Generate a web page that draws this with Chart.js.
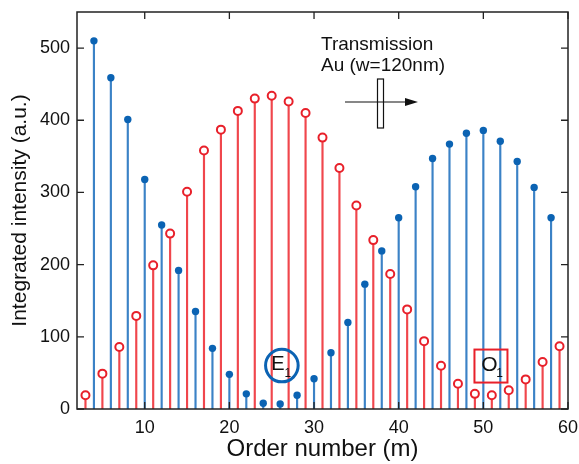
<!DOCTYPE html>
<html>
<head>
<meta charset="utf-8">
<script src="https://cdn.jsdelivr.net/npm/chart.js@4.4.0/dist/chart.umd.min.js"></script>
<style>
  html, body { margin: 0; padding: 0; background: #fff; }
</style>
</head>
<body>
<canvas id="chart" width="579" height="464"></canvas>
<script>
// odd orders (red, open circles) and even orders (blue, filled dots)
const ordersOdd = [3, 5, 7, 9, 11, 13, 15, 17, 19, 21, 23, 25, 27, 29, 31, 33, 35, 37, 39, 41, 43, 45, 47, 49, 51, 53, 55, 57, 59];
const redValues = [19, 49, 86, 129, 199, 243, 301, 358, 387, 413, 430, 434, 426, 410, 376, 334, 282, 234, 187, 138, 94, 60, 35, 21, 19, 26, 41, 65, 87];

const ordersEven = [4, 6, 8, 10, 12, 14, 16, 18, 20, 22, 24, 26, 28, 30, 32, 34, 36, 38, 40, 42, 44, 46, 48, 50, 52, 54, 56, 58];
const blueValues = [510, 459, 401, 318, 255, 192, 135, 84, 48, 21, 8, 7, 19, 42, 78, 120, 173, 219, 265, 308, 347, 367, 382, 386, 371, 343, 307, 265];

const xTicks = [10, 20, 30, 40, 50, 60];
const yTicks = [0, 100, 200, 300, 400, 500];

const FONT = '"Liberation Sans", Arial, sans-serif';
const BLUE = '#0b63b3';
const BLUE_STEM = '#3b82c6';
const RED = '#e8202a';
const RED_STEM = '#f0464c';

const redPoints = ordersOdd.map((m, i) => ({ x: m, y: redValues[i] }));
const bluePoints = ordersEven.map((m, i) => ({ x: m, y: blueValues[i] }));

// inward ticks on all four sides, the frame, and the annotations
const framePlugin = {
    id: 'frame',
    afterDraw(chart) {
        const ctx = chart.ctx;
        const a = chart.chartArea;
        const xs = chart.scales.x;
        const ys = chart.scales.y;
        ctx.save();
        ctx.strokeStyle = '#222';
        ctx.lineWidth = 1.3;
        ctx.beginPath();
        xTicks.forEach(v => {
            const px = xs.getPixelForValue(v);
            ctx.moveTo(px, a.bottom); ctx.lineTo(px, a.bottom - 7);
            ctx.moveTo(px, a.top); ctx.lineTo(px, a.top + 7);
        });
        yTicks.forEach(v => {
            const py = ys.getPixelForValue(v);
            ctx.moveTo(a.left, py); ctx.lineTo(a.left + 7, py);
            ctx.moveTo(a.right, py); ctx.lineTo(a.right - 7, py);
        });
        ctx.stroke();
        ctx.lineWidth = 1.5;
        ctx.strokeRect(a.left, a.top, a.right - a.left, a.bottom - a.top);

        // Transmission text
        ctx.fillStyle = '#111';
        ctx.font = '19px ' + FONT;
        ctx.textAlign = 'left';
        ctx.textBaseline = 'alphabetic';
        ctx.fillText('Transmission', 321, 50);
        ctx.fillText('Au (w=120nm)', 321, 71);

        // arrow through the sample
        ctx.strokeStyle = '#111';
        ctx.lineWidth = 1.2;
        ctx.beginPath();
        ctx.moveTo(345, 102); ctx.lineTo(408, 102);
        ctx.stroke();
        ctx.beginPath();
        ctx.moveTo(418, 102); ctx.lineTo(405, 98); ctx.lineTo(405, 106); ctx.closePath();
        ctx.fill();
        ctx.strokeRect(377.5, 79, 6, 49);

        // E1 circle
        const ex = xs.getPixelForValue(26.2), ey = ys.getPixelForValue(60.2);
        ctx.strokeStyle = BLUE;
        ctx.lineWidth = 3;
        ctx.beginPath();
        ctx.arc(ex, ey, 16.3, 0, Math.PI * 2);
        ctx.stroke();
        ctx.fillStyle = '#111';
        ctx.font = '20px ' + FONT;
        ctx.textAlign = 'center';
        ctx.textBaseline = 'middle';
        ctx.fillText('E', ex - 4, ey - 1);
        ctx.font = '12px ' + FONT;
        ctx.fillText('1', ex + 6, ey + 8);

        // O1 box
        const ox = xs.getPixelForValue(50.9), oy = ys.getPixelForValue(59.5);
        ctx.strokeStyle = RED;
        ctx.lineWidth = 2;
        ctx.strokeRect(ox - 16.5, oy - 16.5, 33, 33);
        ctx.fillStyle = '#111';
        ctx.font = '21px ' + FONT;
        ctx.fillText('O', ox - 1.5, oy - 1);
        ctx.font = '12px ' + FONT;
        ctx.fillText('1', ox + 8.5, oy + 8);
        ctx.restore();
    }
};

new Chart(document.getElementById('chart'), {
    type: 'scatter',
    data: {
        datasets: [
            { type: 'bar', data: redPoints, backgroundColor: RED_STEM, barThickness: 1.5, grouped: false, order: 3 },
            { type: 'bar', data: bluePoints, backgroundColor: BLUE_STEM, barThickness: 1.5, grouped: false, order: 3 },
            { data: redPoints, pointRadius: 4, pointBorderWidth: 2, pointBackgroundColor: '#fff', pointBorderColor: RED, order: 1 },
            { data: bluePoints, pointRadius: 3.7, pointBorderWidth: 0, pointBackgroundColor: BLUE, pointBorderColor: BLUE, order: 1 }
        ]
    },
    options: {
        responsive: false,
        animation: false,
        layout: { padding: { left: 0, right: 11, top: 12, bottom: 0 } },
        plugins: { legend: { display: false }, tooltip: { enabled: false } },
        scales: {
            x: {
                type: 'linear',
                min: 2,
                max: 60,
                offset: false,
                grid: { display: false, drawTicks: false },
                border: { display: false },
                afterBuildTicks: s => { s.ticks = xTicks.map(v => ({ value: v })); },
                afterFit: s => { s.height = 55; s.paddingLeft = 0; s.paddingRight = 0; },
                ticks: { color: '#111', font: { family: FONT, size: 18 }, padding: 8, maxRotation: 0 },
                title: { display: true, text: 'Order number (m)', color: '#111', font: { family: FONT, size: 24 }, padding: { top: 0, bottom: 0 } }
            },
            y: {
                min: 0,
                max: 550,
                grid: { display: false, drawTicks: false },
                border: { display: false },
                afterBuildTicks: s => { s.ticks = yTicks.map(v => ({ value: v })); },
                afterFit: s => { s.width = 77; s.paddingTop = 0; s.paddingBottom = 0; },
                ticks: { color: '#111', font: { family: FONT, size: 18 }, padding: 7 },
                title: { display: true, text: 'Integrated intensity (a.u.)', color: '#111', font: { family: FONT, size: 21 }, padding: { top: 8, bottom: 0 } }
            }
        }
    },
    plugins: [framePlugin]
});
</script>
</body>
</html>
